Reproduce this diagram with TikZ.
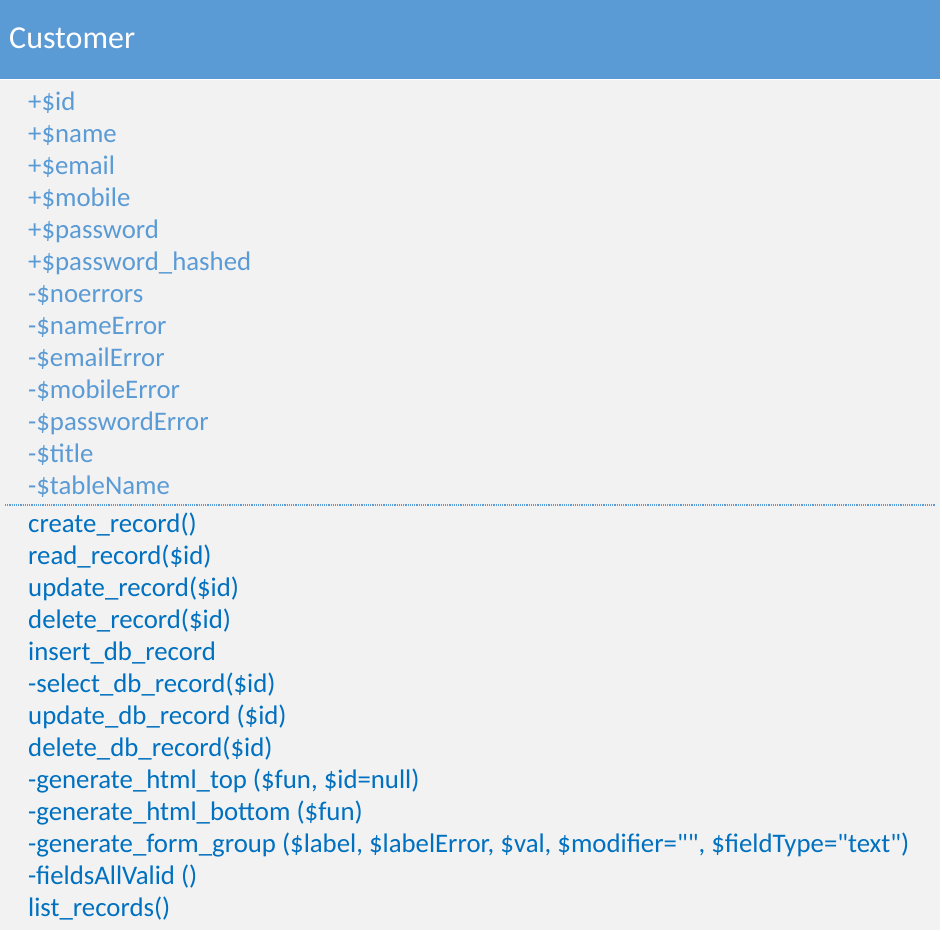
\documentclass[tikz,border=0pt]{standalone}
\usepackage{fontspec}
\setmainfont{Carlito}[Ligatures=TeXOff]
\definecolor{hdr}{HTML}{5B9BD5}
\definecolor{bodybg}{HTML}{F2F2F2}
\definecolor{attr}{HTML}{5B9BD5}
\definecolor{meth}{HTML}{0070C0}
\begin{document}
\begin{tikzpicture}[x=1pt,y=-1pt,
  attrtext/.style={anchor=base west,inner sep=0pt,text=attr,font=\fontsize{26.8}{30}\selectfont},
  methtext/.style={anchor=base west,inner sep=0pt,text=meth,font=\fontsize{26.8}{30}\selectfont},
  titletext/.style={anchor=base west,inner sep=0pt,text=white,font=\fontsize{32}{36}\selectfont}]
\useasboundingbox[fill=white] (0,0) rectangle (942,930);
\fill[bodybg] (0,80) rectangle (940,930);
\fill[hdr] (0,0) rectangle (940,79);
\node[titletext] (title) at (9,48) {Customer};
\foreach \t [count=\i from 0] in {+\$id,+\$name,+\$email,+\$mobile,+\$password,+\$password\_hashed,-\$noerrors,-\$nameError,-\$emailError,-\$mobileError,-\$passwordError,-\$title,-\$tableName}
  \node[attrtext] (a\i) at (28,110+32*\i) {\t};
\coordinate (sepL) at (5,505);
\coordinate (sepR) at (935,505);
\draw[attr,line width=1.1pt,dash pattern=on 1.1pt off 1.1pt] (sepL) -- (sepR);
\foreach \t [count=\i from 0] in {create\_record(),read\_record(\$id),update\_record(\$id),delete\_record(\$id),insert\_db\_record,-select\_db\_record(\$id),update\_db\_record (\$id),delete\_db\_record(\$id),{-generate\_html\_top (\$fun, \$id=null)},-generate\_html\_bottom (\$fun),{-generate\_form\_group (\$label, \$labelError, \$val, \$modifier="", \$fieldType="text")},-fieldsAllValid (),list\_records()}
  \node[methtext] (m\i) at (28,532+32*\i) {\t};
\end{tikzpicture}
\end{document}
